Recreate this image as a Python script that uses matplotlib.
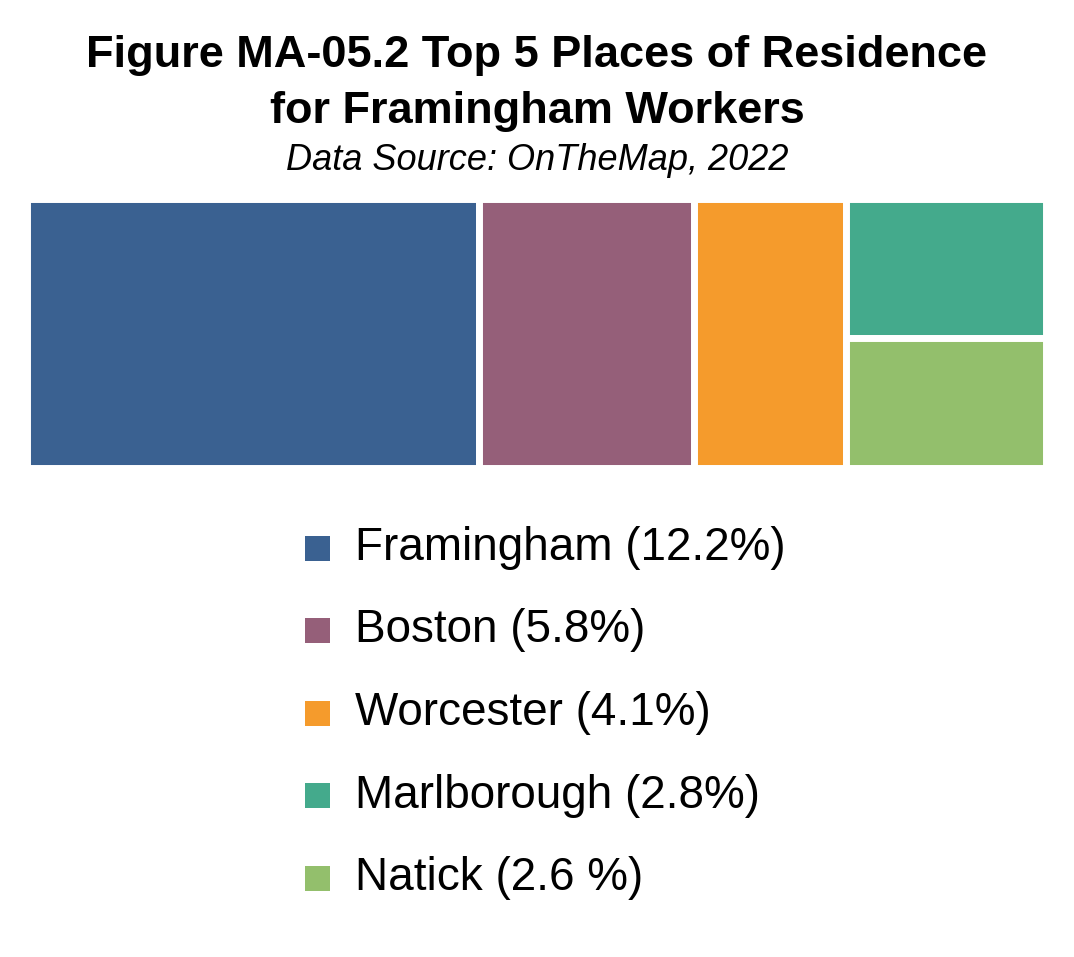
import matplotlib.pyplot as plt
from matplotlib.patches import Rectangle

plt.rcParams['font.family'] = ['Liberation Sans', 'DejaVu Sans']

places = ['Framingham', 'Boston', 'Worcester', 'Marlborough', 'Natick']
shares = [12.2, 5.8, 4.1, 2.8, 2.6]
labels = ['Framingham (12.2%)', 'Boston (5.8%)', 'Worcester (4.1%)',
          'Marlborough (2.8%)', 'Natick (2.6 %)']
colors = ['#3a6191', '#955f79', '#f59b2c', '#44aa8c', '#93bf6c']

W, H = 1074, 957
fig = plt.figure(figsize=(W / 100, H / 100), dpi=100)

# treemap area in pixels: x 30..1043, y 202..464
ax = fig.add_axes([26.5 / W, 1 - 467.5 / H, 1020 / W, 269 / H])
total = sum(shares)
ax.set_xlim(0, total)
ax.set_ylim(0, 1)
ax.axis('off')

# first three side by side, last two stacked in the remaining column
x = 0
for s, c in zip(shares[:3], colors[:3]):
    ax.add_patch(Rectangle((x, 0), s, 1, facecolor=c, edgecolor='white', linewidth=5))
    x += s
rest = sum(shares[3:])
y = 1
for s, c in zip(shares[3:], colors[3:]):
    h = s / rest
    ax.add_patch(Rectangle((x, y - h), rest, h, facecolor=c, edgecolor='white', linewidth=5))
    y -= h

fig.text(0.5, 1 - 56 / H, 'Figure MA-05.2 Top 5 Places of Residence', ha='center', va='center',
         fontsize=32.5, fontweight='bold')
fig.text(0.5, 1 - 111 / H, 'for Framingham Workers', ha='center', va='center',
         fontsize=32.5, fontweight='bold')
fig.text(0.5, 1 - 160 / H, 'Data Source: OnTheMap, 2022', ha='center', va='center',
         fontsize=26, style='italic')

for i, (lab, c) in enumerate(zip(labels, colors)):
    yc = 548 + i * 82.5
    fig.patches.append(Rectangle((305 / W, 1 - (yc + 12.5) / H), 25 / W, 25 / H,
                                 facecolor=c, transform=fig.transFigure))
    fig.text(355 / W, 1 - yc / H, lab, ha='left', va='center', fontsize=33)

fig.savefig('out.png', dpi=100, facecolor='white')
